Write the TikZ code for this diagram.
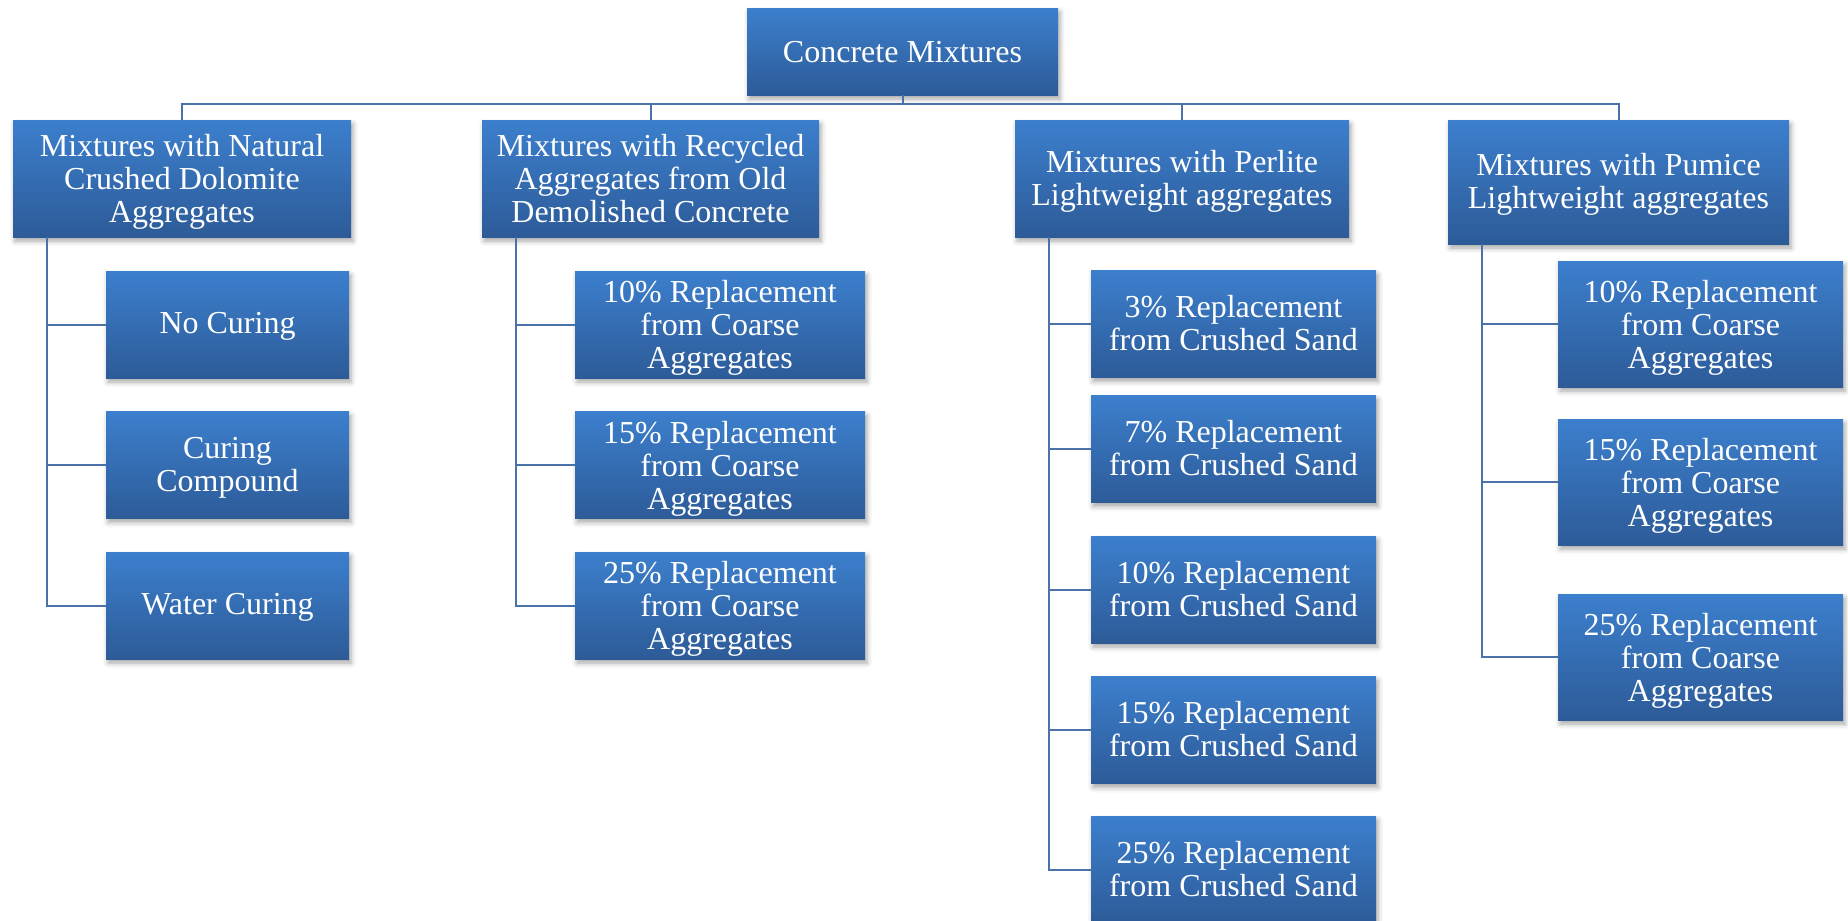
\documentclass[tikz,border=0pt]{standalone}
\usepackage{fontspec}
\setmainfont{Liberation Serif}
\usetikzlibrary{shadows.blur}
\definecolor{boxtop}{RGB}{60,127,205}
\definecolor{boxbot}{RGB}{45,91,152}
\definecolor{linkc}{RGB}{74,114,168}
\tikzset{
  box/.style={rectangle, inner sep=0pt, align=center, text=white,
    top color=boxtop, bottom color=boxbot, draw=none,
    font=\fontsize{32}{33}\selectfont, text depth=0pt,
    blur shadow={shadow xshift=2pt, shadow yshift=-4pt, shadow blur radius=5pt, shadow opacity=35}},
  oneline/.style={text depth=3pt},
  twoline/.style={text depth=2pt},
  link/.style={draw=linkc, line width=2pt},
}
\begin{document}
\begin{tikzpicture}[x=1pt,y=-1pt]
\useasboundingbox (0,0) rectangle (1848,921);
% root
\node[box, text depth=-1pt, minimum width=311pt, minimum height=87pt] (root) at (902.5,51.5) {Concrete Mixtures};
% level 1
\node[box, minimum width=338pt, minimum height=117pt] (nat) at (182,178.5) {Mixtures with Natural\\Crushed Dolomite\\Aggregates};
\node[box, minimum width=337pt, minimum height=117pt] (rec) at (650.5,178.5) {Mixtures with Recycled\\Aggregates from Old\\Demolished Concrete};
\node[box, twoline, minimum width=334pt, minimum height=117pt] (per) at (1182,178.5) {Mixtures with Perlite\\Lightweight aggregates};
\node[box, twoline, minimum width=341pt, minimum height=124pt] (pum) at (1618.5,182) {Mixtures with Pumice\\Lightweight aggregates};
% natural children
\node[box, oneline, minimum width=243pt, minimum height=107pt] (nat1) at (227.5,324.5) {No Curing};
\node[box, twoline, minimum width=243pt, minimum height=107pt] (nat2) at (227.5,465) {Curing\\Compound};
\node[box, oneline, minimum width=243pt, minimum height=107pt] (nat3) at (227.5,605.5) {Water Curing};
% recycled children
\node[box, minimum width=290pt, minimum height=107pt] (rec1) at (720,324.5) {10\% Replacement\\from Coarse\\Aggregates};
\node[box, minimum width=290pt, minimum height=107pt] (rec2) at (720,465) {15\% Replacement\\from Coarse\\Aggregates};
\node[box, minimum width=290pt, minimum height=107pt] (rec3) at (720,605.5) {25\% Replacement\\from Coarse\\Aggregates};
% perlite children
\node[box, twoline, minimum width=285pt, minimum height=107pt] (per1) at (1233.5,324) {3\% Replacement\\from Crushed Sand};
\node[box, twoline, minimum width=285pt, minimum height=107pt] (per2) at (1233.5,449) {7\% Replacement\\from Crushed Sand};
\node[box, twoline, minimum width=285pt, minimum height=107pt] (per3) at (1233.5,589.5) {10\% Replacement\\from Crushed Sand};
\node[box, twoline, minimum width=285pt, minimum height=107pt] (per4) at (1233.5,730) {15\% Replacement\\from Crushed Sand};
\node[box, twoline, minimum width=285pt, minimum height=107pt] (per5) at (1233.5,869.5) {25\% Replacement\\from Crushed Sand};
% pumice children
\node[box, minimum width=285pt, minimum height=126pt] (pum1) at (1700.5,324) {10\% Replacement\\from Coarse\\Aggregates};
\node[box, minimum width=285pt, minimum height=126pt] (pum2) at (1700.5,482) {15\% Replacement\\from Coarse\\Aggregates};
\node[box, minimum width=285pt, minimum height=126pt] (pum3) at (1700.5,657) {25\% Replacement\\from Coarse\\Aggregates};
% bus
\coordinate (bus) at (902.5,104);
\draw[link] (root.south) -- (bus);
\foreach \n in {nat,rec,per,pum} {
  \draw[link] (bus) -| (\n.north);
}
% trunks
\foreach \p/\c in {nat/nat1,nat/nat2,nat/nat3,rec/rec1,rec/rec2,rec/rec3,per/per1,per/per2,per/per3,per/per4,per/per5,pum/pum1,pum/pum2,pum/pum3} {
  \draw[link] ([xshift=34pt]\p.south west) |- (\c.west);
}
\end{tikzpicture}
\end{document}
